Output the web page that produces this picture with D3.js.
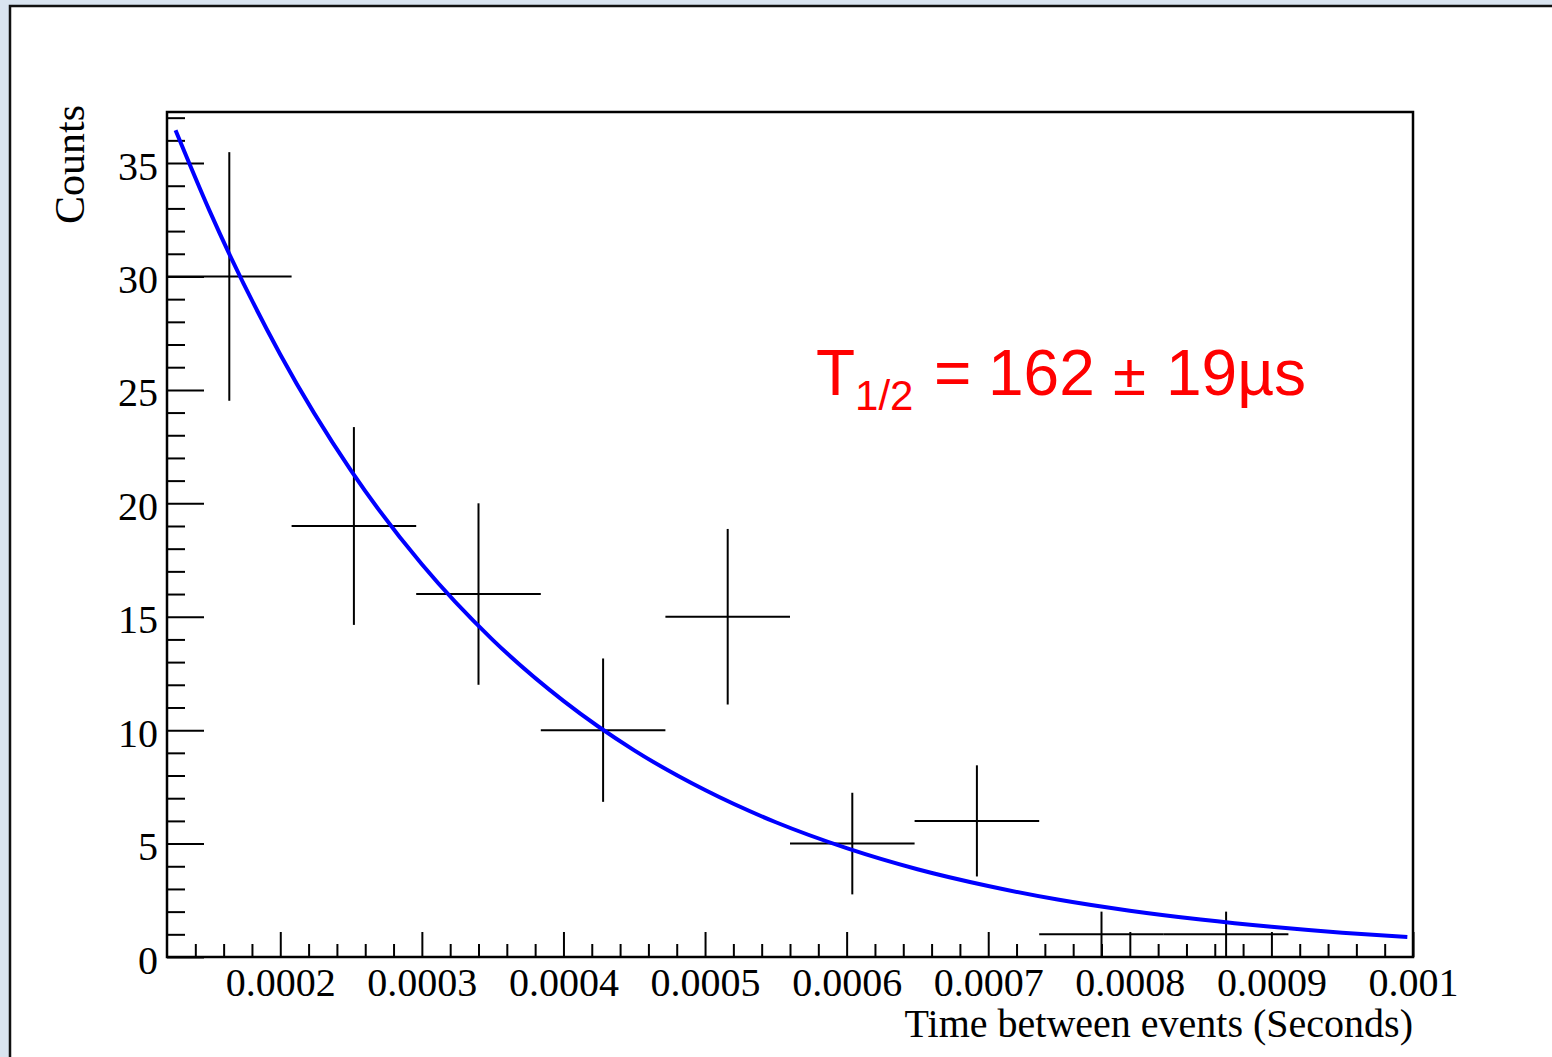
<!DOCTYPE html>
<html>
<head>
<meta charset="utf-8">
<script src="https://cdn.jsdelivr.net/npm/d3@7"></script>
<style>
  html, body { margin: 0; padding: 0; background: #d9e4f0; overflow: hidden; }
  svg { display: block; }
</style>
</head>
<body>
<svg id="plot"></svg>
<script>
// histogram: bin centres (s), counts and errors
let binCenters = [0.000164, 0.000252, 0.00034, 0.000428, 0.000516, 0.000604, 0.000692, 0.00078, 0.000868];
let counts = [30, 19, 16, 10, 15, 5, 6, 1, 1];
let errors = [5.48, 4.36, 4.0, 3.16, 3.87, 2.24, 2.45, 1.0, 1.0];
let binWidth = 0.000088;

// fitted decay curve
let fitT = [0.000126, 0.00015, 0.0002, 0.00025, 0.0003, 0.00035, 0.0004, 0.00045, 0.0005, 0.00055,
            0.0006, 0.00065, 0.0007, 0.00075, 0.0008, 0.00085, 0.0009, 0.00095, 0.000996];
let fitN = [36.45, 32.9, 26.56, 21.44, 17.31, 13.98, 11.29, 9.11, 7.36, 5.94,
            4.80, 3.87, 3.13, 2.52, 2.04, 1.65, 1.33, 1.07, 0.88];

let xTicks = [0.0002, 0.0003, 0.0004, 0.0005, 0.0006, 0.0007, 0.0008, 0.0009, 0.001];
let xTickLabels = ['0.0002', '0.0003', '0.0004', '0.0005', '0.0006', '0.0007', '0.0008', '0.0009', '0.001'];
let yTicks = [0, 5, 10, 15, 20, 25, 30, 35];

let xDomain = [0.00012, 0.001];
let yDomain = [0, 37.25];

function makeChart() {
  let w = 1552;
  let h = 1057;

  let frameL = 167;
  let frameR = 1413;
  let frameT = 112;
  let frameB = 957;

  let serif = '"Liberation Serif", "Times New Roman", serif';
  let sans = '"Liberation Sans", Arial, sans-serif';

  let chart = d3.select('#plot')
    .attr('width', w)
    .attr('height', h);

  // white pad
  chart.append('rect')
    .attr('x', 10)
    .attr('y', 6)
    .attr('width', w + 20)
    .attr('height', h + 20)
    .attr('fill', '#ffffff')
    .attr('stroke', '#111111')
    .attr('stroke-width', 2.5);

  let xScale = d3.scaleLinear().domain(xDomain).range([frameL, frameR]);
  let yScale = d3.scaleLinear().domain(yDomain).range([frameB, frameT]);

  // minor ticks
  let xMinor = d3.range(0.00014, 0.000995, 0.00002).filter(v => !xTicks.some(t => Math.abs(t - v) < 1e-9));
  let yMinor = d3.range(1, 38, 1).filter(v => v % 5 != 0);

  let xMinorAxis = d3.axisBottom(xScale).tickValues(xMinor).tickSizeInner(-13).tickSizeOuter(0).tickFormat('');
  let xMajorAxis = d3.axisBottom(xScale).tickValues(xTicks).tickSizeInner(-25).tickSizeOuter(0)
    .tickPadding(15).tickFormat((d, i) => xTickLabels[i]);
  let yMinorAxis = d3.axisLeft(yScale).tickValues(yMinor).tickSizeInner(-18).tickSizeOuter(0).tickFormat('');
  let yMajorAxis = d3.axisLeft(yScale).tickValues(yTicks).tickSizeInner(-37).tickSizeOuter(0)
    .tickPadding(9);

  [xMinorAxis, xMajorAxis].forEach(ax => {
    chart.append('g')
      .attr('transform', `translate(0, ${frameB})`)
      .call(ax);
  });
  [yMinorAxis, yMajorAxis].forEach(ax => {
    chart.append('g')
      .attr('transform', `translate(${frameL}, 0)`)
      .call(ax);
  });

  chart.selectAll('.tick line')
    .attr('stroke', '#000')
    .attr('stroke-width', 2);
  chart.selectAll('.domain').remove();
  chart.selectAll('.tick text')
    .attr('fill', '#000')
    .style('font-family', serif)
    .style('font-size', '40px');
  chart.selectAll('.tick text').filter(function () { return this.getAttribute('dy') == '0.71em'; })
    .attr('dy', '0.6em');
  chart.selectAll('.tick text').filter(function () { return this.getAttribute('dy') == '0.32em'; })
    .attr('dy', '0.4em');

  // error bars
  let bars = chart.append('g')
    .attr('stroke', '#000')
    .attr('stroke-width', 2);

  bars.selectAll('line.h')
    .data(binCenters)
    .enter()
    .append('line')
    .attr('class', 'h')
    .attr('x1', d => xScale(d - binWidth / 2))
    .attr('x2', d => xScale(d + binWidth / 2))
    .attr('y1', (d, i) => yScale(counts[i]))
    .attr('y2', (d, i) => yScale(counts[i]));

  bars.selectAll('line.v')
    .data(binCenters)
    .enter()
    .append('line')
    .attr('class', 'v')
    .attr('x1', d => xScale(d))
    .attr('x2', d => xScale(d))
    .attr('y1', (d, i) => yScale(counts[i] + errors[i]))
    .attr('y2', (d, i) => yScale(Math.max(0, counts[i] - errors[i])));

  // fit
  let line = d3.line()
    .x((d, i) => xScale(fitT[i]))
    .y(d => yScale(d))
    .curve(d3.curveMonotoneX);

  chart.append('path')
    .datum(fitN)
    .attr('d', line)
    .attr('fill', 'none')
    .attr('stroke', '#0000ff')
    .attr('stroke-width', 4);

  // frame
  chart.append('rect')
    .attr('x', frameL)
    .attr('y', frameT)
    .attr('width', frameR - frameL)
    .attr('height', frameB - frameT)
    .attr('fill', 'none')
    .attr('stroke', '#000')
    .attr('stroke-width', 2.5);

  // axis titles
  chart.append('text')
    .attr('x', frameR)
    .attr('y', 1037)
    .attr('text-anchor', 'end')
    .style('font-family', serif)
    .style('font-size', '40px')
    .text('Time between events (Seconds)');

  chart.append('text')
    .attr('transform', 'rotate(-90)')
    .attr('x', -105)
    .attr('y', 84)
    .attr('text-anchor', 'end')
    .style('font-family', serif)
    .style('font-size', '42px')
    .text('Counts');

  // half-life label
  let label = chart.append('text')
    .attr('x', 816)
    .attr('y', 395)
    .attr('fill', '#ff0000')
    .style('font-family', sans)
    .style('font-size', '64px');
  label.append('tspan').text('T');
  label.append('tspan').attr('dy', 15).style('font-size', '42px').text('1/2');
  label.append('tspan').attr('dy', -15).attr('x', 934).text('=');
  label.append('tspan').attr('x', 988).text('162');
  label.append('tspan').attr('x', 1113).style('font-size', '60px').text('±');
  label.append('tspan').attr('x', 1166).text('19µs');
}

makeChart();
</script>
</body>
</html>
